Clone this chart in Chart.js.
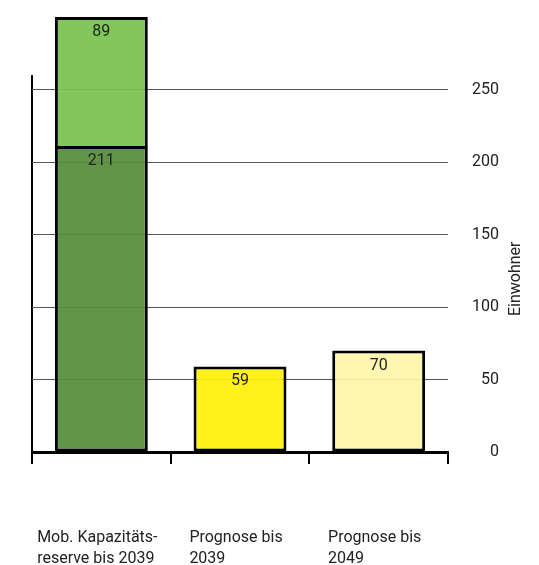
<!DOCTYPE html>
<html>
<head>
<meta charset="utf-8">
<script src="https://cdn.jsdelivr.net/npm/chart.js@4"></script>
<style>
  html, body { margin: 0; padding: 0; background: #fff; }
  #wrap { width: 539px; height: 565px; }
</style>
</head>
<body>
<div id="wrap"><canvas id="grafico"></canvas></div>
<script>
// Daten
const kategorien = [
    ["Mob. Kapazitäts-", "reserve bis 2039"],
    ["Prognose bis", "2039"],
    ["Prognose bis", "2049"]
];
const basisWerte = [211, 59, 70];
const zusatzWerte = [89, null, null];
const basisFarben = ["rgba(84,140,56,0.93)", "rgba(255,239,0,0.9)", "rgba(255,245,170,0.9)"];
const zusatzFarbe = "rgba(122,194,80,0.93)";
const yTicks = [0, 50, 100, 150, 200, 250];
const achsenTitel = "Einwohner";

const schrift = "Roboto, 'Liberation Sans', sans-serif";

// Werte oben in den Balken
const wertBeschriftung = {
    id: 'wertBeschriftung',
    afterDatasetsDraw(chart) {
        const ctx = chart.ctx;
        ctx.save();
        ctx.font = `16px ${schrift}`;
        ctx.fillStyle = '#222';
        ctx.textAlign = 'center';
        ctx.textBaseline = 'middle';
        chart.data.datasets.forEach((ds, i) => {
            const meta = chart.getDatasetMeta(i);
            meta.data.forEach((bar, j) => {
                const v = ds.data[j];
                if (v === null || v === undefined) return;
                const top = Math.min(bar.y, bar.base);
                ctx.fillText(String(v), bar.x, top + 15);
            });
        });
        ctx.restore();
    }
};

// Kategorien unten (linksbündig im Block) und Achsentitel rechts
const achsenTexte = {
    id: 'achsenTexte',
    afterDraw(chart) {
        const ctx = chart.ctx;
        const x = chart.scales.x;
        const y = chart.scales.y;
        ctx.save();
        ctx.font = `16px ${schrift}`;
        ctx.fillStyle = '#222';
        ctx.textBaseline = 'top';
        ctx.textAlign = 'left';
        kategorien.forEach((zeilen, i) => {
            const mitte = x.getPixelForValue(i);
            const breite = Math.max(...zeilen.map(z => ctx.measureText(z).width));
            const links = mitte - breite / 2 - 4;
            zeilen.forEach((z, k) => {
                ctx.fillText(z, links, chart.chartArea.bottom + 78 + k * 21);
            });
        });

        // Titel von unten nach oben
        const mitteY = (y.getPixelForValue(0) + y.getPixelForValue(yTicks[yTicks.length - 1])) / 2 + 8;
        ctx.translate(y.right + 17, mitteY);
        ctx.rotate(-Math.PI / 2);
        ctx.textAlign = 'center';
        ctx.textBaseline = 'middle';
        ctx.fillText(achsenTitel, 0, 0);
        ctx.restore();
    }
};

const ctx = document.getElementById('grafico').getContext('2d');
new Chart(ctx, {
    type: 'bar',
    data: {
        labels: kategorien,
        datasets: [
            {
                data: basisWerte,
                backgroundColor: basisFarben,
                borderColor: '#000',
                borderWidth: 3,
                borderSkipped: false,
                clip: false
            },
            {
                data: zusatzWerte,
                backgroundColor: zusatzFarbe,
                borderColor: '#000',
                borderWidth: { top: 3, left: 3, right: 3, bottom: 0 },
                borderSkipped: false,
                clip: false
            }
        ]
    },
    options: {
        responsive: true,
        maintainAspectRatio: false,
        animation: false,
        events: [],
        layout: {
            padding: { top: 75, left: 32, right: 40, bottom: 101 }
        },
        datasets: {
            bar: { categoryPercentage: 1, barPercentage: 0.67 }
        },
        plugins: {
            legend: { display: false },
            tooltip: { enabled: false }
        },
        scales: {
            x: {
                stacked: true,
                offset: true,
                grid: {
                    offset: true,
                    drawOnChartArea: true,
                    color: c => (c.index === 0 ? '#000' : 'rgba(0,0,0,0)'),
                    lineWidth: 2,
                    tickColor: '#000',
                    tickWidth: 2,
                    tickLength: 12
                },
                border: { display: true, color: '#000', width: 3 },
                ticks: { display: false }
            },
            y: {
                stacked: true,
                position: 'right',
                min: 0,
                max: 260,
                afterBuildTicks: scale => {
                    scale.ticks = yTicks.map(v => ({ value: v }));
                },
                grid: {
                    color: '#555',
                    lineWidth: 1,
                    drawTicks: false
                },
                border: { display: false },
                ticks: {
                    padding: 12,
                    crossAlign: 'far',
                    color: '#222',
                    font: { family: schrift, size: 16 }
                }
            }
        }
    },
    plugins: [wertBeschriftung, achsenTexte]
});
</script>
</body>
</html>
